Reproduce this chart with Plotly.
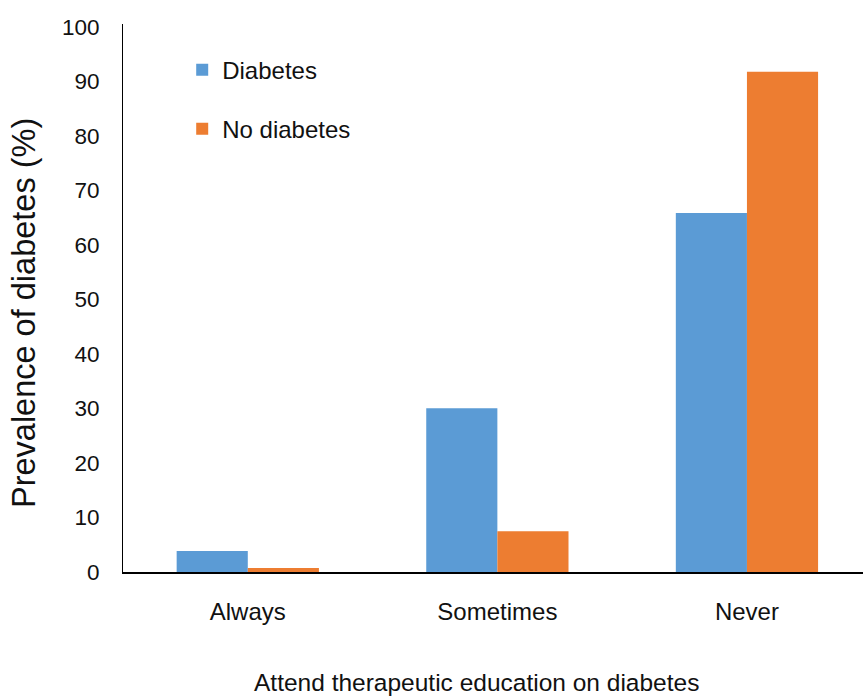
import plotly.graph_objects as go

# Attendance at therapeutic education sessions vs. diabetes status
categories = ["Always", "Sometimes", "Never"]
diabetes = [3.85, 30.05, 65.85]
no_diabetes = [0.75, 7.47, 91.74]
y_ticks = [0, 10, 20, 30, 40, 50, 60, 70, 80, 90, 100]

FONT = "Liberation Sans, Arial, sans-serif"
BLUE = "#5B9BD5"
ORANGE = "#ED7D31"

W, H = 863, 698
L, R, T, B = 123, 0, 24, 126
PW, PH = W - L - R, H - T - B


def px_to_paper_x(px):
    return (px - L) / PW


def px_to_paper_y(py):
    return (H - B - py) / PH


fig = go.Figure()
fig.add_trace(go.Bar(x=categories, y=diabetes, name="Diabetes",
                     marker=dict(color=BLUE, line=dict(width=0)),
                     legendgroup="d"))
fig.add_trace(go.Bar(x=categories, y=no_diabetes, name="No diabetes",
                     marker=dict(color=ORANGE, line=dict(width=0)),
                     legendgroup="nd"))

fig.update_layout(
    width=W, height=H,
    margin=dict(l=L, r=R, t=T, b=B),
    paper_bgcolor="white", plot_bgcolor="white",
    barmode="group", bargap=0.43, bargroupgap=0,
    font=dict(family=FONT, color="#111111", size=24),
    showlegend=True,
    legend=dict(x=0.08, y=0.957, xanchor="left", yanchor="top",
                font=dict(size=24, family=FONT),
                traceorder="grouped", tracegroupgap=25,
                bgcolor="rgba(0,0,0,0)"),
    xaxis=dict(range=[-0.5, 2.465], showline=True, linecolor="black",
               linewidth=2, ticks="", showgrid=False, zeroline=False,
               ticklabelstandoff=17,
               tickfont=dict(size=24, family=FONT)),
    yaxis=dict(range=[0, 100.5], tickvals=y_ticks, showline=True,
               linecolor="black", linewidth=1, ticks="", showgrid=False,
               zeroline=False, ticklabelstandoff=18,
               tickfont=dict(size=22.5, family=FONT)),
    annotations=[
        dict(text="Attend therapeutic education on diabetes",
             xref="paper", yref="paper",
             x=px_to_paper_x(476.5), y=px_to_paper_y(682),
             xanchor="center", yanchor="middle", showarrow=False,
             font=dict(size=24.5, family=FONT, color="#111111")),
        dict(text="Prevalence of diabetes (%)",
             xref="paper", yref="paper", textangle=-90,
             x=px_to_paper_x(24), y=px_to_paper_y(313),
             xanchor="center", yanchor="middle", showarrow=False,
             font=dict(size=32.5, family=FONT, color="#111111")),
    ],
)

fig.write_html("out.html")
